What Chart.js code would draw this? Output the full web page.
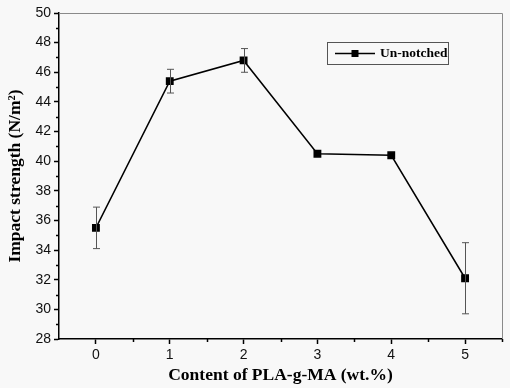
<!DOCTYPE html>
<html lang="en">
<head>
    <meta charset="UTF-8">
    <title>Impact strength</title>
    <style>
        body {
            margin: 0;
            padding: 0;
            background-color: #f8f8f8;
        }
        #chartBox {
            width: 510px;
            height: 388px;
        }
    </style>
    <script src="https://cdn.jsdelivr.net/npm/chart.js"></script>
</head>
<body>
    <div id="chartBox">
        <canvas id="impactChart" width="510" height="388"></canvas>
    </div>

    <script>
        // data
        const contents = [0, 1, 2, 3, 4, 5];
        const strength = [35.5, 45.4, 46.8, 40.5, 40.4, 32.1];
        const errors = [1.4, 0.8, 0.8, 0, 0, 2.4];
        const xTicks = [0, 1, 2, 3, 4, 5];
        const yTicks = [28, 30, 32, 34, 36, 38, 40, 42, 44, 46, 48, 50];
        const seriesName = 'Un-notched';

        const tickFont = { family: 'Liberation Sans, Arial, sans-serif', size: 14 };
        const titleFont = { family: 'Liberation Serif, Times New Roman, serif', size: 17.5, weight: 'bold' };

        // error bars, minor ticks, frame and legend box
        const extras = {
            id: 'extras',
            afterDatasetsDraw(chart) {
                const ctx = chart.ctx;
                const x = chart.scales.x;
                const y = chart.scales.y;
                const a = chart.chartArea;
                ctx.save();

                // frame (top / right)
                ctx.strokeStyle = '#8a8a8a';
                ctx.lineWidth = 1;
                ctx.beginPath();
                ctx.moveTo(a.left, a.top + 0.5);
                ctx.lineTo(a.right + 0.5, a.top + 0.5);
                ctx.lineTo(a.right + 0.5, a.bottom);
                ctx.stroke();

                // minor ticks
                ctx.strokeStyle = '#000';
                ctx.lineWidth = 1.5;
                ctx.beginPath();
                for (let v = 0.5; v <= 5.5; v += 1) {
                    const px = Math.round(x.getPixelForValue(v)) + 0.5;
                    ctx.moveTo(px, a.bottom);
                    ctx.lineTo(px, a.bottom + 3);
                }
                for (let v = 29; v < 50; v += 2) {
                    const py = Math.round(y.getPixelForValue(v)) + 0.5;
                    ctx.moveTo(a.left, py);
                    ctx.lineTo(a.left - 3, py);
                }
                ctx.stroke();

                // error bars
                ctx.strokeStyle = '#555';
                ctx.lineWidth = 1;
                ctx.beginPath();
                contents.forEach((c, i) => {
                    if (!errors[i]) return;
                    const px = Math.round(x.getPixelForValue(c)) + 0.5;
                    const top = y.getPixelForValue(strength[i] + errors[i]);
                    const bot = y.getPixelForValue(strength[i] - errors[i]);
                    ctx.moveTo(px, top);
                    ctx.lineTo(px, bot);
                    ctx.moveTo(px - 3.5, top);
                    ctx.lineTo(px + 3.5, top);
                    ctx.moveTo(px - 3.5, bot);
                    ctx.lineTo(px + 3.5, bot);
                });
                ctx.stroke();

                // legend box
                const lx = 327, ly = 42, lw = 121, lh = 22;
                ctx.strokeStyle = '#555';
                ctx.lineWidth = 1;
                ctx.strokeRect(lx + 0.5, ly + 0.5, lw, lh);
                const cy = ly + lh / 2 + 0.5;
                ctx.strokeStyle = '#000';
                ctx.lineWidth = 1.5;
                ctx.beginPath();
                ctx.moveTo(lx + 8, cy);
                ctx.lineTo(lx + 48, cy);
                ctx.stroke();
                ctx.fillStyle = '#000';
                ctx.fillRect(lx + 28 - 3.5, cy - 3.5, 7, 7);
                ctx.font = 'bold 13.5px "Liberation Serif", "Times New Roman", serif';
                ctx.textBaseline = 'middle';
                ctx.textAlign = 'left';
                ctx.fillText(seriesName, lx + 53, cy);

                ctx.restore();
            }
        };

        const bgPlugin = {
            id: 'bg',
            beforeDraw(chart) {
                const ctx = chart.ctx;
                ctx.save();
                ctx.fillStyle = '#f8f8f8';
                ctx.fillRect(0, 0, chart.width, chart.height);
                ctx.restore();
            }
        };

        const ctx = document.getElementById('impactChart').getContext('2d');
        const impactChart = new Chart(ctx, {
            type: 'line',
            data: {
                datasets: [{
                    label: seriesName,
                    data: contents.map((c, i) => ({ x: c, y: strength[i] })),
                    borderColor: '#000',
                    backgroundColor: '#000',
                    borderWidth: 1.5,
                    pointStyle: 'rect',
                    pointRadius: 4.5,
                    pointHoverRadius: 4.5,
                    tension: 0
                }]
            },
            options: {
                responsive: false,
                animation: false,
                layout: { padding: { top: 13, right: 8, left: 0, bottom: 0 } },
                plugins: {
                    legend: { display: false },
                    tooltip: { enabled: false }
                },
                scales: {
                    x: {
                        type: 'linear',
                        min: -0.5,
                        max: 5.5,
                        afterBuildTicks: s => { s.ticks = xTicks.map(v => ({ value: v })); },
                        afterFit: s => { s.height = 49; },
                        grid: { drawOnChartArea: false, tickLength: 5, tickWidth: 1.5, tickColor: '#000' },
                        border: { color: '#000', width: 1.5 },
                        ticks: { color: '#111', font: tickFont, padding: 3 },
                        title: { display: true, text: 'Content of PLA-g-MA (wt.%)', color: '#000', font: titleFont, padding: { top: 0, bottom: 2 } }
                    },
                    y: {
                        min: 28,
                        max: 50,
                        afterBuildTicks: s => { s.ticks = yTicks.map(v => ({ value: v })); },
                        afterFit: s => { s.width = 59; },
                        grid: { drawOnChartArea: false, tickLength: 5, tickWidth: 1.5, tickColor: '#000' },
                        border: { color: '#000', width: 1.5 },
                        ticks: { color: '#111', font: tickFont, padding: 3 },
                        title: { display: true, text: 'Impact strength (N/m²)', color: '#000', font: titleFont, padding: { top: 5, bottom: 1 } }
                    }
                }
            },
            plugins: [bgPlugin, extras]
        });
    </script>
</body>
</html>
